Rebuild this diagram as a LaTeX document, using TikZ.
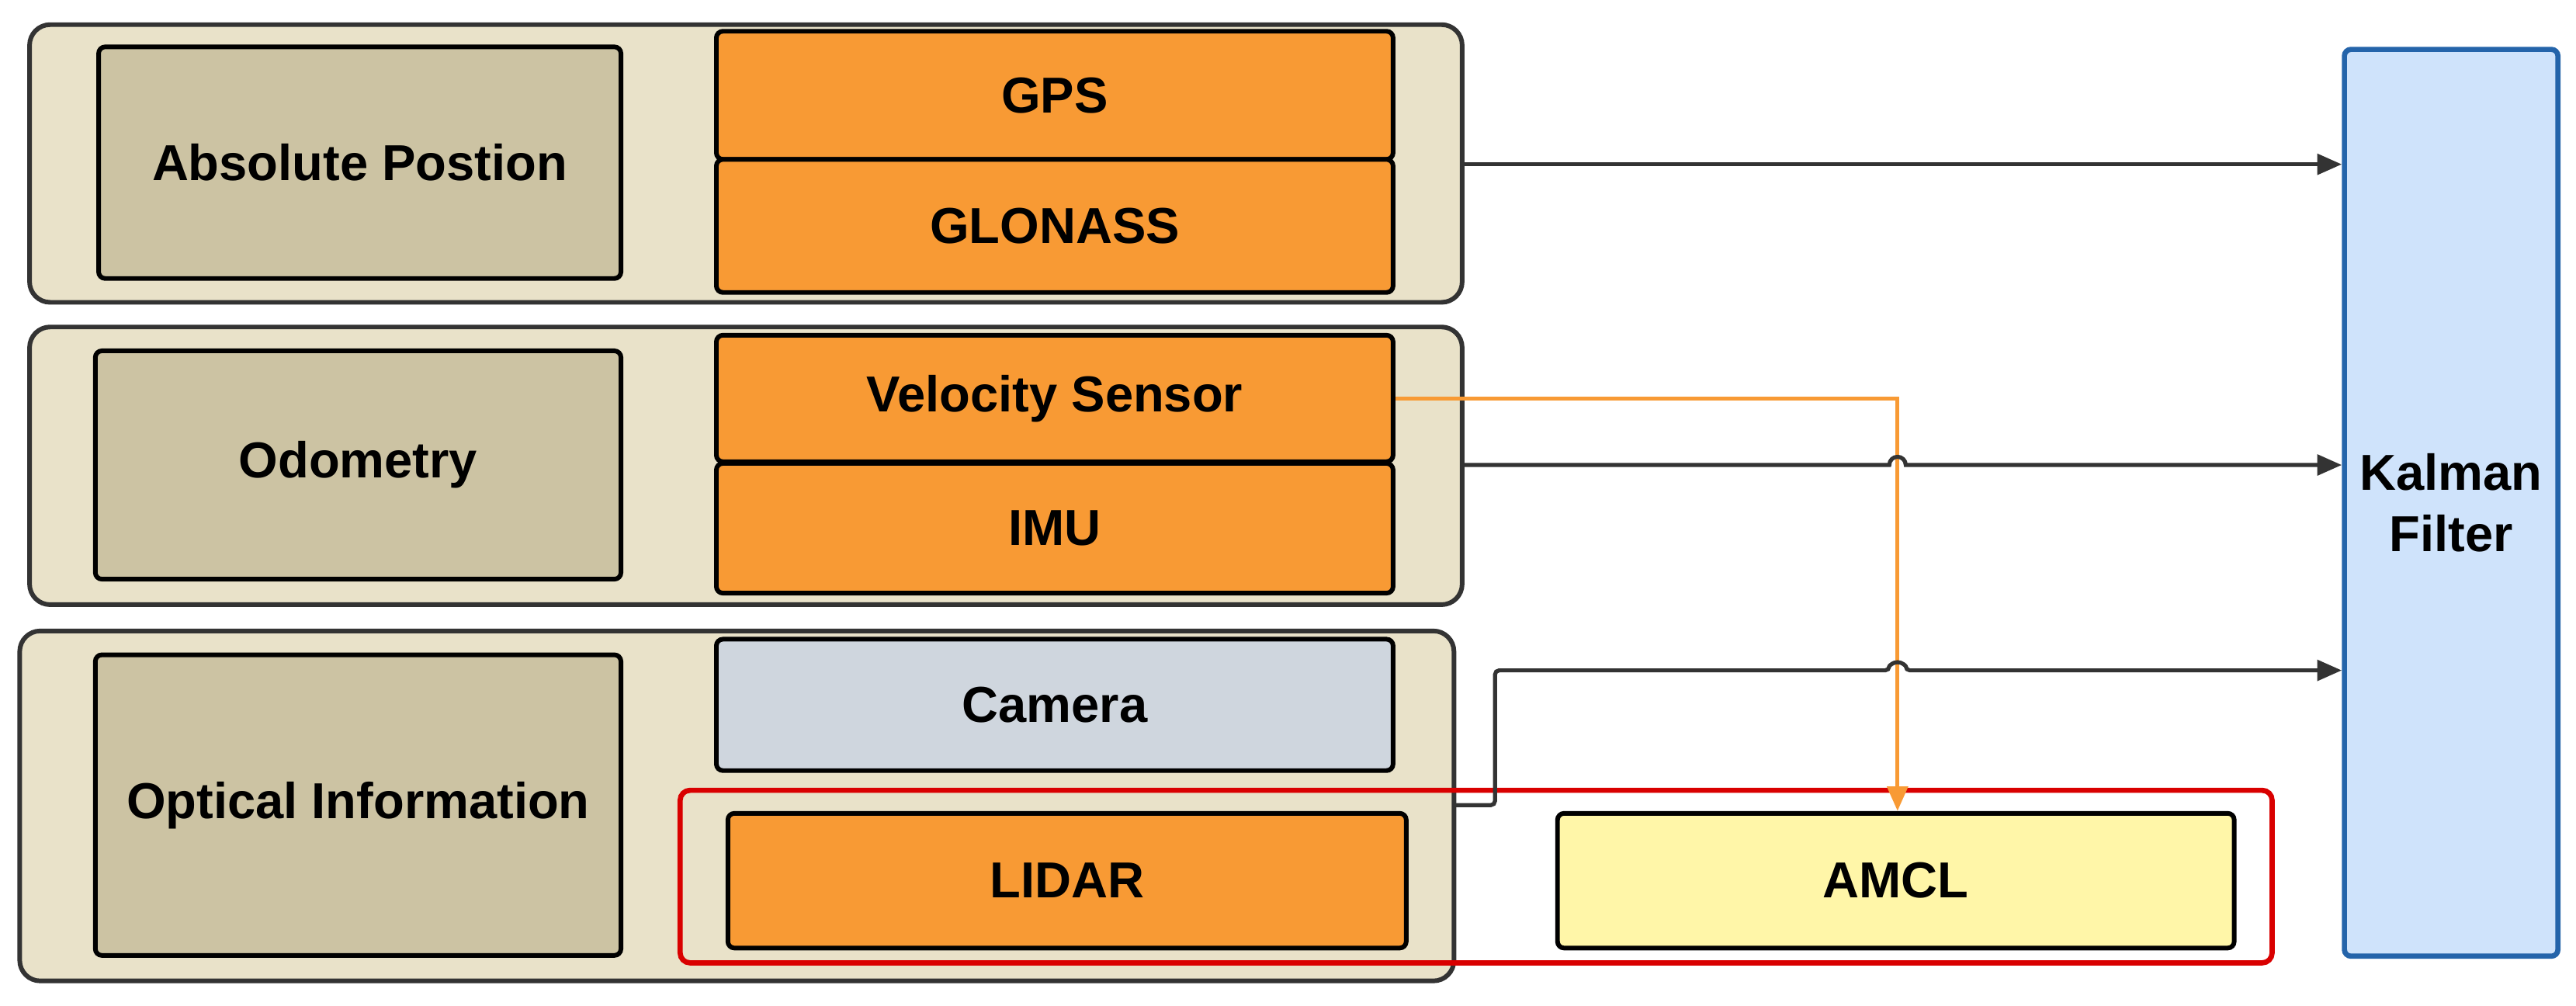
\documentclass[tikz,border=0pt]{standalone}
\usepackage{fontspec}
\setmainfont{Liberation Sans}
\usetikzlibrary{arrows.meta}
\definecolor{grpfill}{HTML}{E9E2C9}
\definecolor{lblfill}{HTML}{CCC3A3}
\definecolor{sensor}{HTML}{F89A34}
\definecolor{camfill}{HTML}{CFD6DE}
\definecolor{amclfill}{HTML}{FFF6A8}
\definecolor{kalfill}{HTML}{CFE3FB}
\definecolor{kalline}{HTML}{2464AA}
\definecolor{edge}{HTML}{333333}
\begin{document}
\begin{tikzpicture}[x=0.02cm,y=-0.02cm,
  txt/.style={font=\fontsize{17.5}{21}\selectfont\bfseries},
  group/.style={draw=edge,line width=1.6pt,rounded corners=0.25cm,fill=grpfill},
  lbl/.style={draw=black,line width=1.6pt,rounded corners=0.08cm,fill=lblfill,txt},
  sens/.style={draw=black,line width=1.6pt,rounded corners=0.08cm,fill=sensor,txt},
  conn/.style={draw=edge,line width=1.4pt,-{Triangle[length=0.3cm,width=0.25cm]}},
  oconn/.style={draw=sensor,line width=1.4pt,-{Triangle[length=0.3cm,width=0.25cm]}}]
\useasboundingbox (0,0) rectangle (1568,612);
% groups
\draw[group] (18,15) rectangle (890,184);
\draw[group] (18,199) rectangle (890,368);
\draw[group] (12,384) rectangle (885,597);
\coordinate (g1) at (890,100);
\coordinate (g2) at (890,283);
\coordinate (g3) at (885,490);
% labels
\node[lbl,minimum width=6.36cm,minimum height=2.82cm] (abs) at (219,99) {Absolute Postion};
\node[lbl,minimum width=6.4cm,minimum height=2.78cm] (odo) at (218,283) {Odometry};
\node[lbl,minimum width=6.4cm,minimum height=3.66cm] (opt) at (218,490) {Optical Information};
% sensors
\node[sens,minimum width=8.24cm,minimum height=1.56cm] (gps) at (642,58) {GPS};
\node[sens,minimum width=8.24cm,minimum height=1.62cm] (glo) at (642,137.5) {GLONASS};
\node[sens,minimum width=8.24cm,minimum height=1.54cm] (vel) at (642,242.5) {Velocity Sensor};
\node[sens,minimum width=8.24cm,minimum height=1.58cm] (imu) at (642,321.5) {IMU};
\node[sens,fill=camfill,minimum width=8.24cm,minimum height=1.6cm] (cam) at (642,429) {Camera};
\node[sens,minimum width=8.26cm,minimum height=1.64cm] (lidar) at (649.5,536) {LIDAR};
\node[sens,fill=amclfill,minimum width=8.24cm,minimum height=1.64cm] (amcl) at (1154,536) {AMCL};
% red frame
\draw[red!85!black,line width=1.8pt,rounded corners=0.12cm] (414,481) rectangle (1383,586);
% kalman
\node[draw=kalline,line width=1.8pt,fill=kalfill,rounded corners=0.08cm,txt,align=center,
  minimum width=2.6cm,minimum height=11.04cm] (kal) at (1492,306) {Kalman\\Filter};
% connectors
\draw[conn] (g1) -- (kal.west |- g1);
\draw[oconn] (vel.east) -- (1155,242.5) -- (amcl.north -| 1155,0);
\draw[conn] (g2) -- (1150,283) arc[start angle=180,end angle=0,radius=0.1cm] -- (kal.west |- g2);
\draw[conn,rounded corners=0.05cm] (g3) -- (910,490) -- (910,408) -- (1150,408) arc[start angle=180,end angle=0,radius=0.1cm] -- (kal.west |- 0,408);
\end{tikzpicture}
\end{document}
